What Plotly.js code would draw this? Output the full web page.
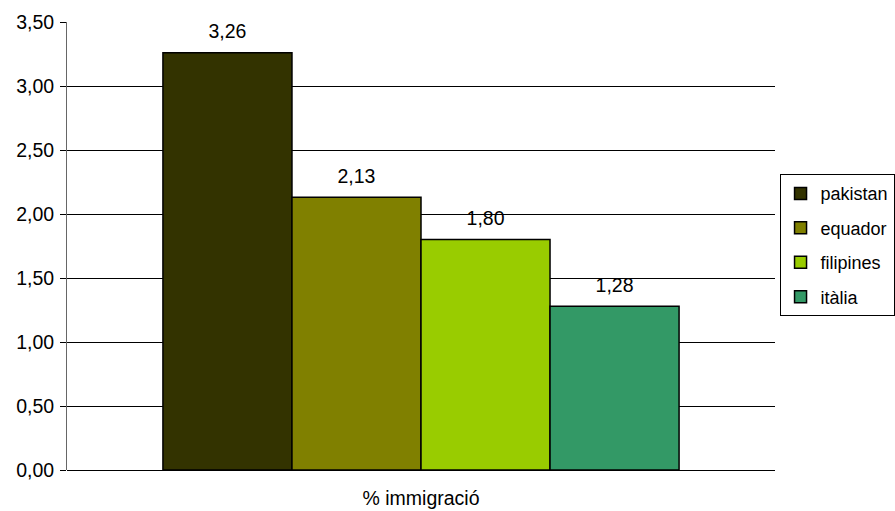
<!DOCTYPE html>
<html>
<head>
<meta charset="utf-8">
<script src="https://cdn.plot.ly/plotly-3.0.1.min.js"></script>
<style>body{margin:0;padding:0;background:#fff}#chart{width:895px;height:511px}</style>
</head>
<body>
<div id="chart"></div>
<script>
const category = ["% immigració"];
const seriesNames = ["pakistan", "equador", "filipines", "itàlia"];
const seriesValues = [3.26, 2.13, 1.80, 1.28];
const seriesLabels = ["3,26", "2,13", "1,80", "1,28"];
const seriesColors = ["#333300", "#808000", "#99CC00", "#339966"];
const yTicks = [0, 0.5, 1, 1.5, 2, 2.5, 3, 3.5];

const FONT = 'Liberation Sans, Arial, sans-serif';
const FS = 19.5;

const bars = seriesNames.map((name, i) => ({
  type: 'bar',
  name: name,
  x: category,
  y: [seriesValues[i]],
  offsetgroup: 'g' + i,
  alignmentgroup: 'a',
  marker: {color: seriesColors[i], line: {color: '#000', width: 1.5}},
  legendgroup: 'g' + i,
  hoverinfo: 'skip'
}));

const labels = seriesNames.map((name, i) => ({
  type: 'scatter',
  mode: 'markers+text',
  x: category,
  y: [seriesValues[i]],
  text: [seriesLabels[i]],
  textposition: 'top center',
  offsetgroup: 'g' + i,
  alignmentgroup: 'a',
  marker: {size: 14, opacity: 0, color: '#fff'},
  textfont: {family: FONT, size: FS, color: '#000'},
  showlegend: false,
  cliponaxis: false,
  hoverinfo: 'skip'
}));

const layout = {
  width: 895, height: 511,
  margin: {l: 67, r: 120, t: 22, b: 41},
  paper_bgcolor: '#fff', plot_bgcolor: '#fff',
  separators: ',.',
  barmode: 'group',
  scattermode: 'group',
  bargap: 0.271,
  bargroupgap: 0,
  showlegend: true,
  font: {family: FONT, size: FS, color: '#000'},
  xaxis: {
    type: 'category',
    showline: false,
    showgrid: false,
    ticks: '',
    ticklabelstandoff: 14,
    tickfont: {size: FS, color: '#000'}
  },
  yaxis: {
    range: [0, 3.5],
    tickvals: yTicks,
    tickformat: '.2f',
    showgrid: true,
    gridcolor: '#000',
    gridwidth: 1,
    zeroline: true,
    zerolinecolor: '#000',
    zerolinewidth: 1,
    showline: true,
    linecolor: '#666',
    linewidth: 1,
    ticks: 'outside',
    ticklen: 6,
    tickcolor: '#000',
    ticklabelstandoff: 2,
    tickfont: {size: FS, color: '#000'}
  },
  legend: {
    xref: 'container', yref: 'container',
    x: 0.871, y: 0.659, xanchor: 'left', yanchor: 'top',
    bordercolor: '#000', borderwidth: 1,
    traceorder: 'grouped',
    tracegroupgap: 8,
    itemwidth: 30,
    font: {size: 18, color: '#000'},
    bgcolor: '#fff'
  }
};

Plotly.newPlot('chart', bars.concat(labels), layout, {displayModeBar: false});
</script>
</body>
</html>
